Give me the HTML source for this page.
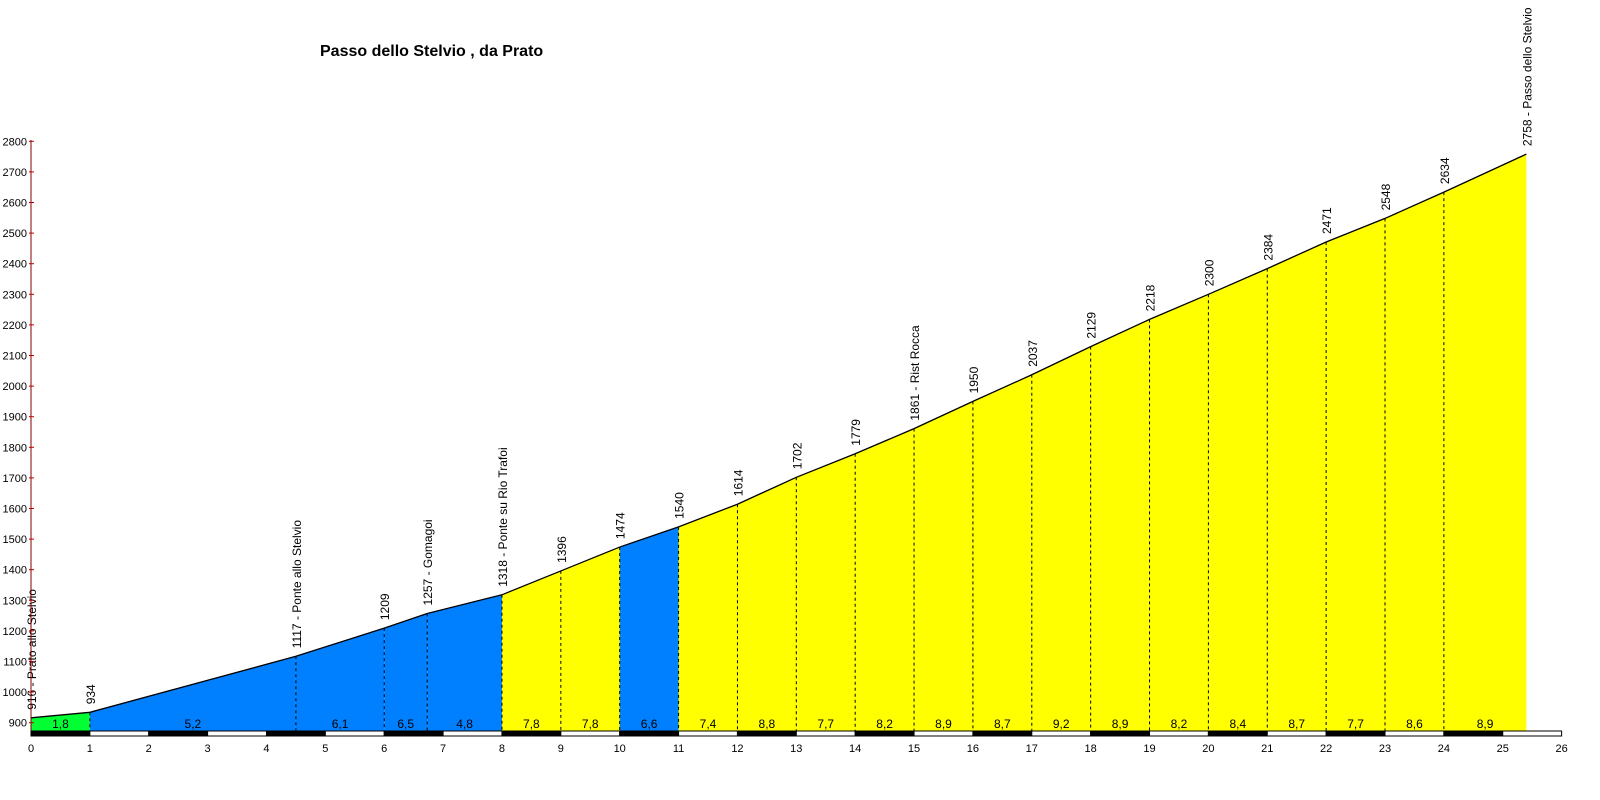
<!DOCTYPE html>
<html><head><meta charset="utf-8"><style>
body{margin:0;background:#fff;}
svg{display:block;font-family:"Liberation Sans",Arial,sans-serif;}
</style></head><body>
<svg id="c" width="1600" height="800">
<text x="320" y="56" font-size="16" font-weight="bold">Passo dello Stelvio , da Prato</text>
<g id="g"></g>
</svg>
<script>
const kms=[0,1,4.5,6,6.73,8,9,10,11,12,13,14,15,16,17,18,19,20,21,22,23,24,25.4];
const elevs=[916,934,1117,1209,1257,1318,1396,1474,1540,1614,1702,1779,1861,1950,2037,2129,2218,2300,2384,2471,2548,2634,2758];
const names=["Prato allo Stelvio","","Ponte allo Stelvio","","Gomagoi","Ponte su Rio Trafoi","","","","","","","Rist Rocca","","","","","","","","","","Passo dello Stelvio"];
const grades=["1,8","5,2","6,1","6,5","4,8","7,8","7,8","6,6","7,4","8,8","7,7","8,2","8,9","8,7","9,2","8,9","8,2","8,4","8,7","7,7","8,6","8,9"];
const segColors=["#00ff33","#0080ff","#0080ff","#0080ff","#0080ff","#ffff00","#ffff00","#0080ff","#ffff00","#ffff00","#ffff00","#ffff00","#ffff00","#ffff00","#ffff00","#ffff00","#ffff00","#ffff00","#ffff00","#ffff00","#ffff00","#ffff00"];
const yTicks=[900,1000,1100,1200,1300,1400,1500,1600,1700,1800,1900,2000,2100,2200,2300,2400,2500,2600,2700,2800];
const xTicks=[0,1,2,3,4,5,6,7,8,9,10,11,12,13,14,15,16,17,18,19,20,21,22,23,24,25,26];
const X=k=>31+k*58.87;
const Y=v=>722.7-(v-900)*0.306;
const BASE=731;
const g=document.getElementById('g');
const NS='http://www.w3.org/2000/svg';
function mk(t,a){const e=document.createElementNS(NS,t);for(const k in a)e.setAttribute(k,a[k]);g.appendChild(e);return e;}
// segments
for(let i=0;i<kms.length-1;i++){
  const p=mk('polygon',{points:`${X(kms[i])},${BASE} ${X(kms[i])},${Y(elevs[i])} ${X(kms[i+1])},${Y(elevs[i+1])} ${X(kms[i+1])},${BASE}`,fill:segColors[i]});
  
  
  const t=mk('text',{x:(X(kms[i])+X(kms[i+1]))/2,y:728,'font-size':12,'text-anchor':'middle',fill:'#000'});
  t.textContent=grades[i];
  
  
}
// dashed lines and labels
for(let i=0;i<kms.length;i++){
  if(i>0&&i<kms.length-1){
    const l=mk('line',{x1:X(kms[i]),x2:X(kms[i]),y1:Y(elevs[i]),y2:BASE,stroke:'#000','stroke-dasharray':'3,3'});
    
    
  }
  const x=X(kms[i])+5,y=Y(elevs[i])-8;
  const t=mk('text',{x:x,y:y,'font-size':12,transform:`rotate(-90 ${x} ${y})`,fill:'#000'});
  t.textContent=elevs[i]+(names[i]?' - '+names[i]:'');
  
  
}
// profile line
const pl=mk('polyline',{points:kms.map((k,i)=>X(k)+','+Y(elevs[i])).join(' '),fill:'none',stroke:'#000','stroke-width':1.3});


// y axis
const ax=mk('line',{x1:31,x2:31,y1:140,y2:BASE,stroke:'#800000'});


yTicks.forEach(v=>{
  const tk=mk('line',{x1:29,x2:34,y1:Y(v),y2:Y(v),stroke:'#c00000'});
  
  
  const t=mk('text',{x:27,y:Y(v)+4,'font-size':11,'text-anchor':'end',fill:'#000'});
  t.textContent=v;
  
  
});
// km bar and x labels
xTicks.forEach((k,i)=>{
  if(i<xTicks.length-1){
    const r=mk('rect',{x:X(k),y:BASE,width:X(k+1)-X(k),height:5,fill:k%2===0?'#000':'#fff',stroke:'#000','stroke-width':1});
    
    
  }
  const t=mk('text',{x:X(k),y:752,'font-size':11,'text-anchor':'middle',fill:'#000'});
  t.textContent=k;
  
  
});
</script>
</body></html>
